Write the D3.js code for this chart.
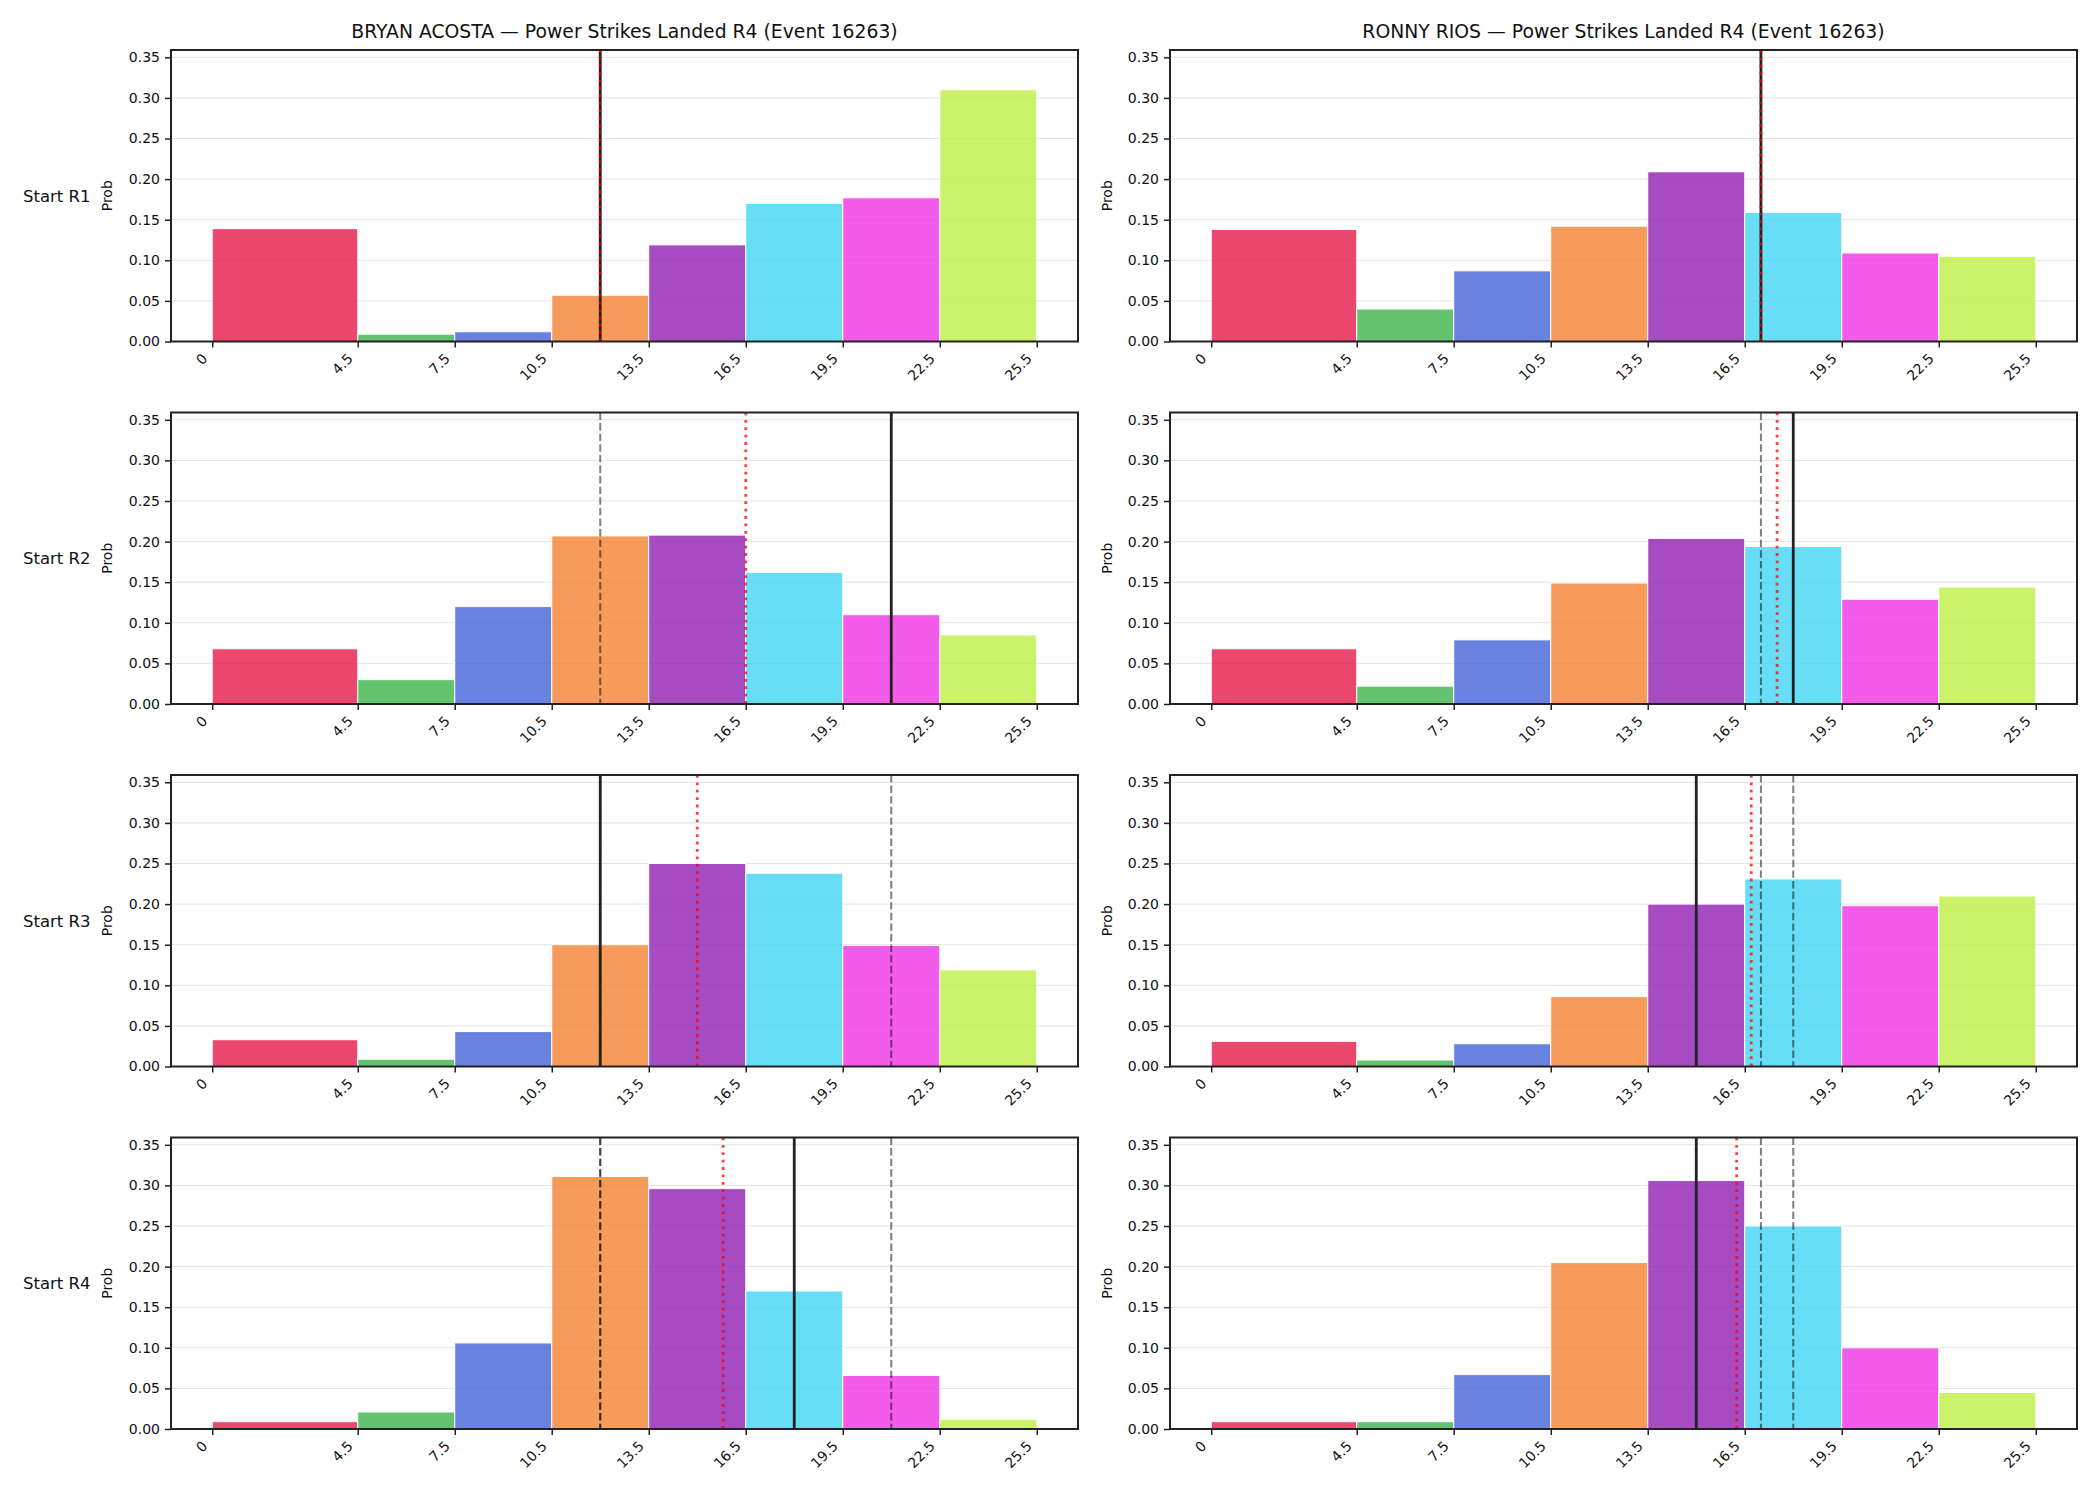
<!DOCTYPE html>
<html>
<head>
<meta charset="utf-8">
<script src="https://cdn.jsdelivr.net/npm/d3@7"></script>
<style>
  html, body { margin: 0; padding: 0; background: #ffffff; }
  svg { display: block; font-family: "DejaVu Sans", sans-serif; }
</style>
</head>
<body>
<svg id="chart" width="2100" height="1500"></svg>
<script>
// ---------- data ----------
const binEdges = [0, 4.5, 7.5, 10.5, 13.5, 16.5, 19.5, 22.5, 25.5];
const xTickLabels = ["0", "4.5", "7.5", "10.5", "13.5", "16.5", "19.5", "22.5", "25.5"];
const yTicks = [0, 0.05, 0.10, 0.15, 0.20, 0.25, 0.30, 0.35];
const rowLabels = ["Start R1", "Start R2", "Start R3", "Start R4"];
const fighterNames = ["BRYAN ACOSTA", "RONNY RIOS"];
const titleSuffix = " — Power Strikes Landed R4 (Event 16263)";
const binColors = ["#e6194b", "#3cb44b", "#4363d8", "#f58231", "#911eb4", "#42d4f4", "#f032e6", "#bfef45"];

// bin probabilities per starting round
const acostaProbs = [
  [0.139, 0.009, 0.012, 0.057, 0.119, 0.170, 0.177, 0.310],
  [0.068, 0.030, 0.120, 0.207, 0.208, 0.162, 0.110, 0.085],
  [0.033, 0.009, 0.043, 0.150, 0.250, 0.238, 0.149, 0.119],
  [0.009, 0.021, 0.106, 0.311, 0.296, 0.170, 0.066, 0.012]
];
const riosProbs = [
  [0.138, 0.040, 0.087, 0.142, 0.209, 0.159, 0.109, 0.105],
  [0.068, 0.022, 0.079, 0.149, 0.204, 0.194, 0.129, 0.144],
  [0.031, 0.008, 0.028, 0.086, 0.200, 0.231, 0.198, 0.210],
  [0.009, 0.009, 0.067, 0.205, 0.306, 0.250, 0.100, 0.045]
];
// solid black reference line per start round; earlier rounds' values shown dashed
const acostaLine = [12, 21, 12, 18];
const riosLine = [17, 18, 15, 15];
// red dotted mean per start round
const acostaMean = [12, 16.5, 15, 15.8];
const riosMean = [17, 17.5, 16.7, 16.25];

const fighterProbs = [acostaProbs, riosProbs];
const fighterLines = [acostaLine, riosLine];
const fighterMeans = [acostaMean, riosMean];

// ---------- layout ----------
const colX = [171, 1170];
const plotW = 907;
const rowY = [50, 412.5, 775, 1137.5];
const plotH = 291.5;
const yMax = 0.359;
const xDomain = [-1.275, 26.775];

const svg = d3.select("#chart");
svg.append("rect").attr("width", 2100).attr("height", 1500).attr("fill", "#ffffff");

const ink = "#222222";

for (let c = 0; c < 2; c++) {
  for (let r = 0; r < 4; r++) {
    const x0 = colX[c], y0 = rowY[r];
    const x = d3.scaleLinear().domain(xDomain).range([x0, x0 + plotW]);
    const y = d3.scaleLinear().domain([0, yMax]).range([y0 + plotH, y0]);
    const g = svg.append("g");

    // grid
    g.selectAll("line.grid").data(yTicks).enter().append("line")
      .attr("x1", x0).attr("x2", x0 + plotW)
      .attr("y1", d => y(d)).attr("y2", d => y(d))
      .attr("stroke", "#e3e3e3").attr("stroke-width", 1);

    // bars
    const probs = fighterProbs[c][r];
    const bins = probs.map((p, i) => ({ lo: binEdges[i], hi: binEdges[i + 1], p: p, color: binColors[i] }));
    g.selectAll("rect.bar").data(bins).enter().append("rect")
      .attr("x", d => x(d.lo)).attr("width", d => x(d.hi) - x(d.lo))
      .attr("y", d => y(d.p)).attr("height", d => y(0) - y(d.p))
      .attr("fill", d => d.color).attr("fill-opacity", 0.8)
      .attr("stroke", "#ffffff").attr("stroke-width", 1);

    const top = y(yMax), bot = y(0);
    // dashed previous-round lines
    const prev = fighterLines[c].slice(0, r);
    g.selectAll("line.prev").data(prev).enter().append("line")
      .attr("x1", d => x(d)).attr("x2", d => x(d))
      .attr("y1", top).attr("y2", bot)
      .attr("stroke", "#000000").attr("stroke-opacity", 0.5)
      .attr("stroke-width", 2).attr("stroke-dasharray", "7.4,3.2");
    // solid line
    const sv = fighterLines[c][r];
    g.append("line").attr("x1", x(sv)).attr("x2", x(sv)).attr("y1", top).attr("y2", bot)
      .attr("stroke", ink).attr("stroke-width", 2.8);
    // dotted mean
    const mv = fighterMeans[c][r];
    g.append("line").attr("x1", x(mv)).attr("x2", x(mv)).attr("y1", top).attr("y2", bot)
      .attr("stroke", "#ff0000").attr("stroke-opacity", 0.75)
      .attr("stroke-width", 2.8).attr("stroke-dasharray", "2.8,4.6");

    // frame
    g.append("rect").attr("x", x0).attr("y", y0).attr("width", plotW).attr("height", plotH)
      .attr("fill", "none").attr("stroke", ink).attr("stroke-width", 2);

    // y axis
    const yAxis = d3.axisLeft(y).tickValues(yTicks).tickFormat(d3.format(".2f")).tickSize(6).tickPadding(5);
    const ya = g.append("g").attr("transform", `translate(${x0},0)`).call(yAxis);
    ya.select(".domain").remove();
    ya.selectAll(".tick line").attr("stroke", ink).attr("stroke-width", 1.5);
    ya.selectAll(".tick text").attr("font-family", "DejaVu Sans").attr("font-size", 14).attr("fill", "#111");

    // x axis
    const xAxis = d3.axisBottom(x).tickValues(binEdges).tickFormat((d, i) => xTickLabels[i]).tickSize(6).tickPadding(0);
    const xa = g.append("g").attr("transform", `translate(0,${bot})`).call(xAxis);
    xa.select(".domain").remove();
    xa.selectAll(".tick line").attr("stroke", ink).attr("stroke-width", 1.5);
    xa.selectAll(".tick text")
      .attr("font-family", "DejaVu Sans").attr("font-size", 14).attr("fill", "#111")
      .attr("text-anchor", "end").attr("dy", null).attr("y", null)
      .attr("transform", "translate(-4.5,18) rotate(-45)");

    // y label
    const labX = c === 0 ? 107 : 1107;
    g.append("text").attr("transform", `translate(${labX + 5},${y0 + plotH / 2}) rotate(-90)`)
      .attr("text-anchor", "middle").attr("font-size", 14).attr("fill", "#111").text("Prob");

    if (c === 0) {
      g.append("text").attr("x", 23).attr("y", y0 + plotH / 2 + 6)
        .attr("font-size", 16.5).attr("fill", "#111").text(rowLabels[r]);
    }
    if (r === 0) {
      g.append("text").attr("x", x0 + plotW / 2).attr("y", 38)
        .attr("text-anchor", "middle").attr("font-size", 18.8).attr("fill", "#111")
        .text(fighterNames[c] + titleSuffix);
    }
  }
}
</script>
</body>
</html>
